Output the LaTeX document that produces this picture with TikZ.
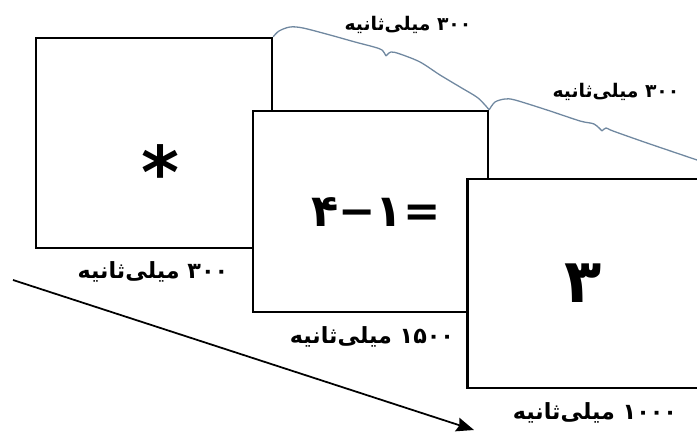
\documentclass[tikz,border=0pt]{standalone}
\usepackage{fontspec}
\usetikzlibrary{arrows.meta}
\TeXXeTstate=1
\newfontfamily\farsifont[Script=Arabic]{DejaVu Sans}
\newfontfamily\digitfont{DejaVu Sans}
\definecolor{braceblue}{RGB}{112,136,160}
\tikzset{
  screen/.style={draw, line width=2pt, fill=white, inner sep=0pt},
  sign/.style={font=\digitfont\bfseries\fontsize{38}{38}\selectfont, inner sep=0pt},
  duration/.style={font=\farsifont\bfseries\fontsize{19}{19}\selectfont, inner sep=1pt},
  gap/.style={font=\farsifont\bfseries\fontsize{16}{16}\selectfont, inner sep=1pt},
  brace/.style={braceblue, line width=1.1pt},
}
\newcommand{\msec}[1]{\beginR #1 میلی‌ثانیه\endR}
\begin{document}
\begin{tikzpicture}[x=0.03cm, y=-0.03cm, >={Stealth[length=15pt, width=12pt, inset=2pt]}]
                \useasboundingbox (0,0) rectangle (697,432);
                % 1) Time axis under the screens
                \coordinate (tstart) at (13,280);
                \coordinate (tend) at (474,430);
                \draw[->, line width=1.5pt] (tstart) -- (tend);
                % 2) Three screens, each one laid over the last
                \node[screen, minimum width=7.08cm, minimum height=6.3cm] (fix) at (154,143) {};
                \node[screen, minimum width=7.05cm, minimum height=6.03cm] (calc) at (370.5,211.5) {};
                \node[screen, minimum width=7.05cm, minimum height=6.27cm] (answer) at (585,283.5) {};
                % 3) What each screen shows
                \node[sign, font=\digitfont\bfseries\fontsize{62}{62}\selectfont] (star) at (160,172) {*};
                \node[sign] (eq) at (376,212) {۴−۱=};
                \node[sign, font=\digitfont\bfseries\fontsize{52}{52}\selectfont] (three) at (583,283) {۳};
                % 4) How long each screen stays
                \node[duration] (d1) at (153,272) {\msec{۳۰۰}};
                \node[duration] (d2) at (372,337) {\msec{۱۵۰۰}};
                \node[duration] (d3) at (595,413) {\msec{۱۰۰۰}};
                % 5) Braces for the gaps between screens, tip pointing down
                \draw[brace] plot[smooth] coordinates {(fix.north east) (279,31) (290,27) (303,28) (330,35) (355,42) (374,47) (382,50) (386,56)};
                \draw[brace] plot[smooth] coordinates {(386,56) (391,52) (400,54) (420,62) (440,75) (460,87) (478,98) (calc.north east)};
                \node[gap] (g1) at (408,25) {\msec{۳۰۰}};
                \draw[brace] plot[smooth] coordinates {(calc.north east) (495,102) (505,99) (515,100) (547,110) (580,121) (594,124) (602,131)};
                \draw[brace] plot[smooth] coordinates {(602,131) (606,128) (613,131) (647,143) (697,160) (720,168)};
                \node[gap] (g2) at (616,92) {\msec{۳۰۰}};
            \end{tikzpicture}
\end{document}
